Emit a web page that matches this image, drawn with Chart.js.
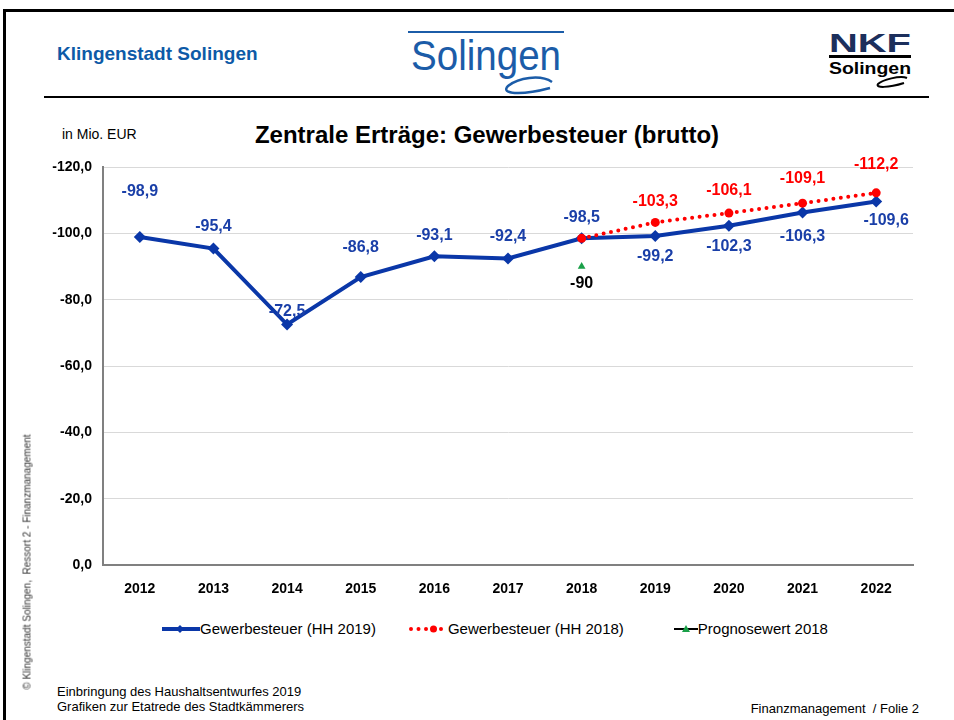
<!DOCTYPE html>
<html>
<head>
<meta charset="utf-8">
<script src="https://cdn.jsdelivr.net/npm/chart.js@4"></script>
<style>
  body { margin: 0; width: 954px; height: 720px; background: #fff; position: relative; overflow: hidden; font-family: "Liberation Sans", Arial, sans-serif; }
  .abs { position: absolute; }
  #frameTop { left: 3px; top: 9px; width: 951px; height: 3px; background: #000; }
  #frameLeft { left: 3px; top: 9px; width: 3px; height: 711px; background: #000; }
  #sep { left: 44px; top: 96px; width: 885px; height: 2px; background: #000; }
  #klingen { left: 57px; top: 43px; font-family: "Liberation Sans Narrow", "Arial Narrow", sans-serif; font-weight: bold; font-size: 19px; color: #0d5aa7; }
  #chartBox { left: 0; top: 140px; width: 954px; height: 470px; }
  #title { left: 0; width: 974px; top: 121px; text-align: center; font-weight: bold; font-size: 24px; color: #000; }
  #unit { left: 62px; top: 126px; font-size: 14px; color: #000; }
  #legend { left: 160px; top: 620px; font-size: 15px; color: #000; display: flex; align-items: center; }
  #legend span { display: inline-flex; align-items: center; }
  .foot { font-family: "Liberation Sans Narrow", "Arial Narrow", sans-serif; font-size: 13px; color: #000; }
  #side { left: 27px; top: 562px; transform: translate(-50%, -50%) rotate(-90deg); white-space: nowrap; font-size: 10px; color: #333; }
</style>
</head>
<body>
<div class="abs" id="frameTop"></div>
<div class="abs" id="frameLeft"></div>
<div class="abs" id="sep"></div>
<div class="abs" id="klingen">Klingenstadt Solingen</div>

<svg class="abs" style="left:400px;top:26px" width="175" height="70">
  <rect x="8" y="5" width="156" height="2" fill="#1b5ca8"/>
  <text x="86" y="44" text-anchor="middle" font-family="Liberation Sans Narrow, Arial Narrow, sans-serif" font-size="42" fill="#1b5ca8" textLength="150" lengthAdjust="spacingAndGlyphs">Solingen</text>
  <path d="M152 56 C140 48 118 52 108 60 C100 68 120 70 150 62" fill="none" stroke="#1b5ca8" stroke-width="2.5"/>
</svg>

<svg class="abs" style="left:820px;top:30px" width="100" height="62">
  <text x="50" y="22" text-anchor="middle" font-family="Liberation Sans, Arial, sans-serif" font-weight="bold" font-size="25" fill="#1c2f5c" textLength="82" lengthAdjust="spacingAndGlyphs">NKF</text>
  <rect x="9" y="25" width="82" height="3" fill="#000"/>
  <text x="50" y="44" text-anchor="middle" font-family="Liberation Sans Narrow, Arial Narrow, sans-serif" font-weight="bold" font-size="17" fill="#000" textLength="82" lengthAdjust="spacingAndGlyphs">Solingen</text>
  <path d="M87 48 C80 45 62 50 58 54 C55 58 68 58 84 53" fill="none" stroke="#000" stroke-width="2"/>
</svg>

<div class="abs" id="unit">in Mio. EUR</div>
<div class="abs" id="title">Zentrale Erträge: Gewerbesteuer (brutto)</div>

<div class="abs" id="chartBox"><canvas id="chart"></canvas></div>

<div class="abs" id="legend">
  <span><svg width="40" height="12"><line x1="2" y1="6" x2="40" y2="6" stroke="#0a37a8" stroke-width="4"/><polygon points="20,2 24,6 20,10 16,6" fill="#0a37a8"/></svg>Gewerbesteuer (HH 2019)</span>
  <span style="margin-left:32px"><svg width="40" height="12"><line x1="3" y1="6" x2="40" y2="6" stroke="#ff0000" stroke-width="4" stroke-linecap="round" stroke-dasharray="0 7.5"/><circle cx="25.5" cy="6" r="3.5" fill="#ff0000"/></svg>Gewerbesteuer (HH 2018)</span>
  <span style="margin-left:50px"><svg width="24" height="12"><line x1="0" y1="6" x2="24" y2="6" stroke="#000" stroke-width="2"/><polygon points="12,2 16,9 8,9" fill="#1aa048"/></svg>Prognosewert 2018</span>
</div>

<div class="abs" id="side">© Klingenstadt Solingen,&nbsp; Ressort 2 - Finanzmanagement</div>
<div class="abs foot" style="left:57px;top:684px">Einbringung des Haushaltsentwurfes 2019</div>
<div class="abs foot" style="left:57px;top:699px">Grafiken zur Etatrede des Stadtkämmerers</div>
<div class="abs foot" style="right:35px;top:701px">Finanzmanagement&nbsp; / Folie 2</div>

<script>
const years = ["2012", "2013", "2014", "2015", "2016", "2017", "2018", "2019", "2020", "2021", "2022"];
const hh2019 = [-98.9, -95.4, -72.5, -86.8, -93.1, -92.4, -98.5, -99.2, -102.3, -106.3, -109.6];
const hh2018 = [null, null, null, null, null, null, -98.5, -103.3, -106.1, -109.1, -112.2];
const prognose = [null, null, null, null, null, null, -90, null, null, null, null];
const yTicks = [-120, -100, -80, -60, -40, -20, 0];

// label offsets in px relative to the point (dx, dy)
const blueLabelPos = [[0, -45], [0, -22], [0, -13], [0, -30], [0, -21], [0, -22], [0, -21], [0, 21], [0, 21], [0, 24], [10, 19]];
const redLabelPos = [null, null, null, null, null, null, null, [0, -21], [0, -23], [0, -25], [0, -28]];
const greenLabelPos = [null, null, null, null, null, null, [0, 17], null, null, null, null];

const fmt = v => v.toFixed(1).replace(".", ",");

const pointLabels = {
  id: "pointLabels",
  afterDatasetsDraw(chart) {
    const ctx = chart.ctx;
    const cfg = [
      { idx: 0, pos: redLabelPos, color: "#ff0000", f: fmt },
      { idx: 1, pos: blueLabelPos, color: "#1a3fa8", f: fmt },
      { idx: 2, pos: greenLabelPos, color: "#000000", f: v => String(v) }
    ];
    ctx.save();
    ctx.font = "bold 16px 'Liberation Sans', Arial, sans-serif";
    ctx.textAlign = "center";
    ctx.textBaseline = "middle";
    cfg.forEach(c => {
      const meta = chart.getDatasetMeta(c.idx);
      const data = chart.data.datasets[c.idx].data;
      meta.data.forEach((pt, i) => {
        if (data[i] == null || !c.pos[i]) return;
        ctx.fillStyle = c.color;
        ctx.fillText(c.f(data[i]), pt.x + c.pos[i][0], pt.y + c.pos[i][1]);
      });
    });
    ctx.restore();
  }
};

const data = {
  labels: years,
  datasets: [
    {
      label: "Gewerbesteuer (HH 2018)",
      data: hh2018,
      borderColor: "#ff0000",
      backgroundColor: "#ff0000",
      borderWidth: 4,
      borderDash: [0, 7.5],
      borderCapStyle: "round",
      pointStyle: "circle",
      pointRadius: 4.5,
      pointBorderWidth: 0,
      order: 0
    },
    {
      label: "Gewerbesteuer (HH 2019)",
      data: hh2019,
      borderColor: "#0a37a8",
      backgroundColor: "#0a37a8",
      borderWidth: 4,
      pointStyle: "rectRot",
      pointRadius: 6,
      pointBorderWidth: 0,
      order: 1
    },
    {
      label: "Prognosewert 2018",
      data: prognose,
      showLine: false,
      borderColor: "#1aa048",
      backgroundColor: "#1aa048",
      pointStyle: "triangle",
      pointRadius: 4.5,
      pointBorderWidth: 0,
      order: 0
    }
  ]
};

const config = {
  type: "line",
  data: data,
  options: {
    responsive: true,
    maintainAspectRatio: false,
    animation: false,
    layout: { padding: { left: 0, right: 41, top: 27, bottom: 0 } },
    plugins: {
      legend: { display: false },
      tooltip: { enabled: false }
    },
    scales: {
      x: {
        offset: true,
        grid: { display: false },
        border: { display: true, color: "#808080", width: 2 },
        ticks: {
          color: "#000",
          padding: 8,
          font: { family: "'Liberation Sans', Arial, sans-serif", size: 14, weight: "bold" }
        },
        afterFit: s => { s.height = 45; }
      },
      y: {
        reverse: true,
        min: -120,
        max: 0,
        afterBuildTicks: s => { s.ticks = yTicks.map(v => ({ value: v })); },
        grid: { color: "#d9d9d9", lineWidth: 1, drawTicks: false },
        border: { display: true, color: "#808080", width: 2 },
        ticks: {
          color: "#000",
          padding: 11,
          callback: v => fmt(v),
          font: { family: "'Liberation Sans', Arial, sans-serif", size: 14, weight: "bold" }
        },
        afterFit: s => { s.width = 103; }
      }
    }
  },
  plugins: [pointLabels]
};

const ctxChart = document.getElementById("chart").getContext("2d");
const mainChart = new Chart(ctxChart, config);
</script>
</body>
</html>
